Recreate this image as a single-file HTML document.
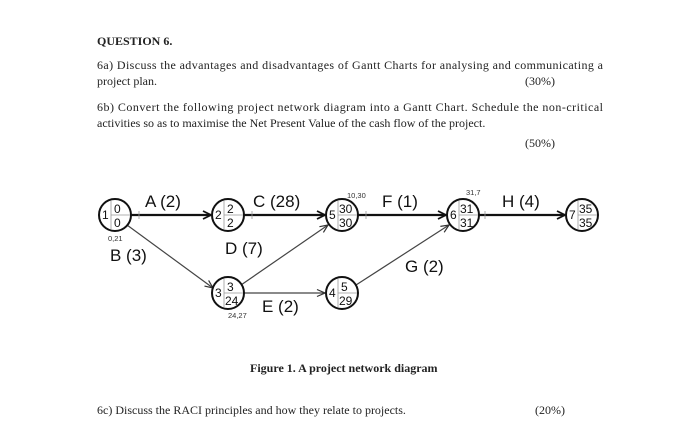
<!DOCTYPE html>
<html><head><meta charset="utf-8"><style>
html,body{margin:0;padding:0;background:#fff;}
svg{display:block}
.s{font-family:"Liberation Serif",serif;fill:#222;font-size:12px}
.a{font-family:"Liberation Sans",sans-serif;fill:#111;font-size:17px}
.n{font-family:"Liberation Sans",sans-serif;fill:#111;font-size:12px}
.t{font-family:"Liberation Sans",sans-serif;fill:#333;font-size:7.5px}
</style></head><body>
<svg width="700" height="445" viewBox="0 0 700 445" xmlns="http://www.w3.org/2000/svg">
<defs>
<marker id="ah" markerWidth="10" markerHeight="10" refX="9" refY="5" orient="auto" markerUnits="userSpaceOnUse">
<path d="M1,1 L9,5 L1,9" fill="none" stroke="#111" stroke-width="1.8"/></marker>
<marker id="ah2" markerWidth="10" markerHeight="10" refX="9" refY="5" orient="auto" markerUnits="userSpaceOnUse">
<path d="M1,1.5 L9,5 L1,8.5" fill="none" stroke="#333" stroke-width="1.2"/></marker>
</defs>
<text class="s" x="97" y="45" font-weight="bold" font-size="12.5">QUESTION 6.</text>
<text class="s" x="97" y="69" textLength="506" lengthAdjust="spacing">6a)  Discuss the advantages and disadvantages of Gantt Charts for analysing and communicating a</text>
<text class="s" x="97" y="85">project plan.</text>
<text class="s" x="525" y="85">(30%)</text>
<text class="s" x="97" y="111" textLength="506" lengthAdjust="spacing">6b) Convert the following project network diagram into a Gantt Chart. Schedule the non-critical</text>
<text class="s" x="97" y="127">activities so as to maximise the Net Present Value of the cash flow of the project.</text>
<text class="s" x="525" y="147">(50%)</text>

<g stroke="#111" stroke-width="2.2" fill="none">
<line x1="131" y1="215" x2="211" y2="215" marker-end="url(#ah)"/>
<line x1="244" y1="215" x2="325" y2="215" marker-end="url(#ah)"/>
<line x1="358" y1="215" x2="446" y2="215" marker-end="url(#ah)"/>
<line x1="479" y1="215" x2="565" y2="215" marker-end="url(#ah)"/>
</g>
<g stroke="#444" stroke-width="1.2" fill="none">
<line x1="127" y1="225" x2="213" y2="288" marker-end="url(#ah2)"/>
<line x1="241" y1="285" x2="328" y2="225" marker-end="url(#ah2)"/>
<line x1="244" y1="293" x2="325" y2="293" marker-end="url(#ah2)"/>
<line x1="356" y1="285" x2="449" y2="225" marker-end="url(#ah2)"/>
<g stroke="#999" stroke-width="0.8">
<line x1="139" y1="211" x2="139" y2="219"/><line x1="252" y1="211" x2="252" y2="219"/>
<line x1="366" y1="211" x2="366" y2="219"/><line x1="485" y1="211" x2="485" y2="219"/>
</g>
</g>
<g>
<g transform="translate(115,215)"><circle r="16" fill="#fff" stroke="#111" stroke-width="2"/><line x1="-4" y1="-14" x2="-4" y2="14" stroke="#999" stroke-width="0.8"/><line x1="-4" y1="0" x2="15" y2="0" stroke="#999" stroke-width="0.8"/><text class="n" x="-13" y="4">1</text><text class="n" x="-1" y="-2">0</text><text class="n" x="-1" y="12">0</text></g>
<g transform="translate(228,215)"><circle r="16" fill="#fff" stroke="#111" stroke-width="2"/><line x1="-4" y1="-14" x2="-4" y2="14" stroke="#999" stroke-width="0.8"/><line x1="-4" y1="0" x2="15" y2="0" stroke="#999" stroke-width="0.8"/><text class="n" x="-13" y="4">2</text><text class="n" x="-1" y="-2">2</text><text class="n" x="-1" y="12">2</text></g>
<g transform="translate(342,215)"><circle r="16" fill="#fff" stroke="#111" stroke-width="2"/><line x1="-4" y1="-14" x2="-4" y2="14" stroke="#999" stroke-width="0.8"/><line x1="-4" y1="0" x2="15" y2="0" stroke="#999" stroke-width="0.8"/><text class="n" x="-13" y="4">5</text><text class="n" x="-3" y="-2">30</text><text class="n" x="-3" y="12">30</text></g>
<g transform="translate(463,215)"><circle r="16" fill="#fff" stroke="#111" stroke-width="2"/><line x1="-4" y1="-14" x2="-4" y2="14" stroke="#999" stroke-width="0.8"/><line x1="-4" y1="0" x2="15" y2="0" stroke="#999" stroke-width="0.8"/><text class="n" x="-13" y="4">6</text><text class="n" x="-3" y="-2">31</text><text class="n" x="-3" y="12">31</text></g>
<g transform="translate(582,215)"><circle r="16" fill="#fff" stroke="#111" stroke-width="2"/><line x1="-4" y1="-14" x2="-4" y2="14" stroke="#999" stroke-width="0.8"/><line x1="-4" y1="0" x2="15" y2="0" stroke="#999" stroke-width="0.8"/><text class="n" x="-13" y="4">7</text><text class="n" x="-3" y="-2">35</text><text class="n" x="-3" y="12">35</text></g>
<g transform="translate(228,293)"><circle r="16" fill="#fff" stroke="#111" stroke-width="2"/><line x1="-4" y1="-14" x2="-4" y2="14" stroke="#999" stroke-width="0.8"/><line x1="-4" y1="0" x2="15" y2="0" stroke="#999" stroke-width="0.8"/><text class="n" x="-13" y="4">3</text><text class="n" x="-1" y="-2">3</text><text class="n" x="-3" y="12">24</text></g>
<g transform="translate(342,293)"><circle r="16" fill="#fff" stroke="#111" stroke-width="2"/><line x1="-4" y1="-14" x2="-4" y2="14" stroke="#999" stroke-width="0.8"/><line x1="-4" y1="0" x2="15" y2="0" stroke="#999" stroke-width="0.8"/><text class="n" x="-13" y="4">4</text><text class="n" x="-1" y="-2">5</text><text class="n" x="-3" y="12">29</text></g>
</g>
<text class="a" x="145" y="207">A (2)</text>
<text class="a" x="253" y="207">C (28)</text>
<text class="a" x="382" y="207">F (1)</text>
<text class="a" x="502" y="207">H (4)</text>
<text class="a" x="110" y="261">B (3)</text>
<text class="a" x="225" y="254">D (7)</text>
<text class="a" x="405" y="272">G (2)</text>
<text class="a" x="262" y="312">E (2)</text>
<text class="t" x="108" y="241">0,21</text>
<text class="t" x="347" y="198">10,30</text>
<text class="t" x="466" y="195">31,7</text>
<text class="t" x="228" y="318">24,27</text>

<text class="s" x="250" y="372" font-weight="bold" font-size="11">Figure 1.  A project network diagram</text>
<text class="s" x="97" y="414">6c) Discuss the RACI principles and how they relate to projects.</text>
<text class="s" x="535" y="414">(20%)</text>
</svg>
</body></html>
